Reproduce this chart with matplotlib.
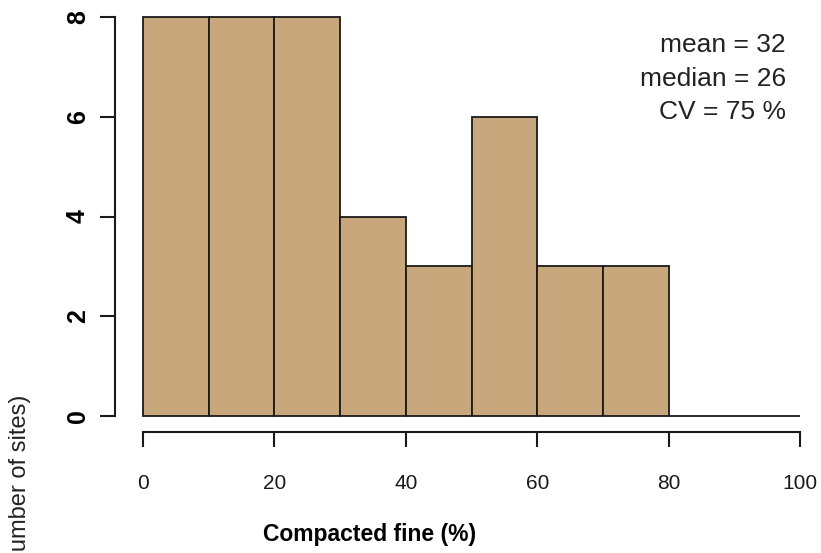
import matplotlib
matplotlib.use("Agg")
import matplotlib.pyplot as plt

# Data
bin_edges = [0, 10, 20, 30, 40, 50, 60, 70, 80, 90, 100]
counts = [8, 8, 8, 4, 3, 6, 3, 3, 0, 0]
x_ticks = [0, 20, 40, 60, 80, 100]
y_ticks = [0, 2, 4, 6, 8]
stats_lines = ["mean = 32", "median = 26", "CV = 75 %"]
x_label = "Compacted fine (%)"
y_label = "(Number of sites)"

W, H = 821, 553
fig = plt.figure(figsize=(W / 100, H / 100), dpi=100)
fig.patch.set_facecolor("white")

left, right, top, bottom = 143, 800, 17, 416
ax = fig.add_axes([left / W, 1 - bottom / H, (right - left) / W, (bottom - top) / H])
ax.set_xlim(0, 100)
ax.set_ylim(0, 8)
ax.patch.set_alpha(0)

reg = ["Liberation Sans", "DejaVu Sans"]

widths = [bin_edges[i + 1] - bin_edges[i] for i in range(len(counts))]
ax.bar(bin_edges[:-1], counts, width=widths, align="edge",
       color="#C9A77C", edgecolor="#1a1a1a", linewidth=1.3, clip_on=False)

for s in ["top", "right"]:
    ax.spines[s].set_visible(False)
ax.spines["left"].set_position(("outward", 28 * 0.72))
ax.spines["bottom"].set_position(("outward", 16 * 0.72))
ax.spines["left"].set_bounds(0, 8)
ax.spines["bottom"].set_bounds(0, 100)
for s in ["left", "bottom"]:
    ax.spines[s].set_linewidth(1.5)
    ax.spines[s].set_color("#1a1a1a")

ax.set_xticks(x_ticks)
ax.set_xticklabels([str(v) for v in x_ticks], family=reg, fontsize=15, color="#1a1a1a")
ax.set_yticks(y_ticks)
ax.set_yticklabels([str(v) for v in y_ticks], rotation=90, va="center",
                   family=reg, fontsize=18, fontweight="bold")
ax.tick_params(axis="x", length=15 * 0.72, width=1.5, pad=27 * 0.72, color="#1a1a1a")
ax.tick_params(axis="y", length=15 * 0.72, width=1.5, pad=10 * 0.72, color="#1a1a1a")

# Axis labels placed as in reference
fig.text(370 / W, 1 - 535 / H, x_label, ha="center", va="center",
         family=reg, fontsize=16.5, fontweight="bold")
fig.text(20 / W, 1 - 395 / H, y_label, ha="center", va="top", rotation=90,
         family=reg, fontsize=17, color="#222222")

# Stats annotation
ys = [45, 79, 112]
for txt, yp in zip(stats_lines, ys):
    fig.text(786 / W, 1 - yp / H, txt, ha="right", va="center",
             family=reg, fontsize=19, color="#222222")

fig.savefig("out.png", dpi=100)
